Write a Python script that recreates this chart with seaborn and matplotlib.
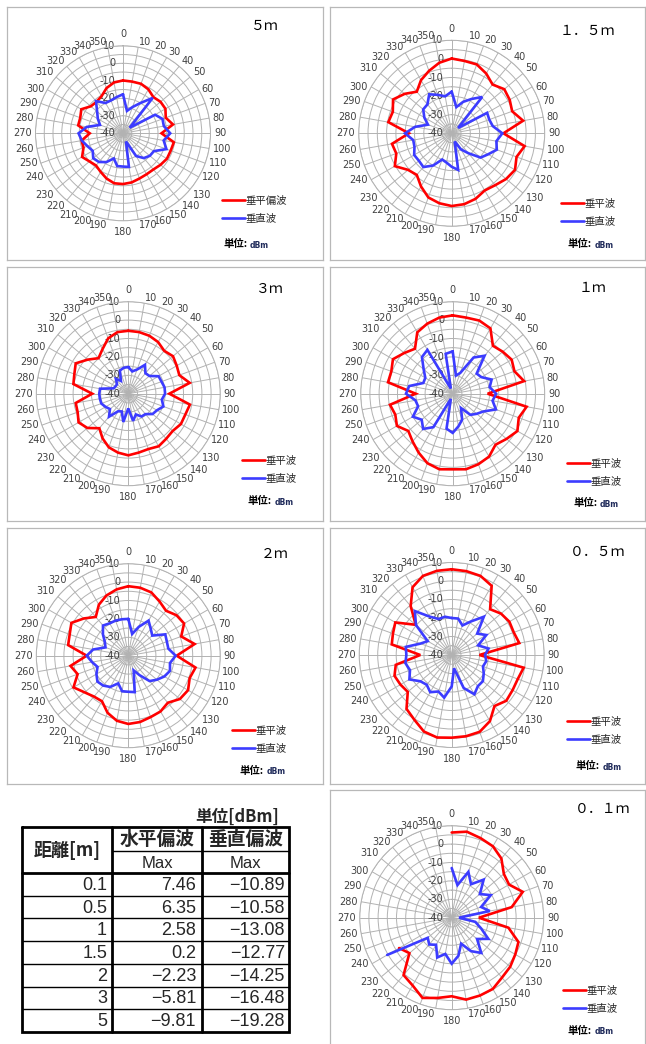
import numpy as np
import matplotlib
matplotlib.use("Agg")
import matplotlib.pyplot as plt
import seaborn as sns
from matplotlib.transforms import offset_copy

sns.set_theme(style="white")
plt.rcParams['font.family'] = ['DejaVu Sans']

# ---- measurement data (dBm), azimuth 0..350 deg in 10 deg steps ----
angles_deg = list(range(0, 360, 10))

h_5m = [-9.81, -10, -9.9, -11, -13, -12, -12, -14, -11, -18, -10.5, -11, -11, -12, -13, -13, -12.5, -11.5,
        -11, -11, -12.5, -14.5, -16, -15, -13, -16, -16, -21, -14, -14, -12.5, -16, -16.5, -15.5, -12.5, -10.5]
v_5m = [-17.7, -27, -24, -20, -13.6, -35, -18.8, -16, -16.3, -13, -16.4, -13.6, -19.6, -20, -21.5, -25, -35, -20.5,
        -21, -21, -24.7, -21, -18.6, -17.8, -20, -18.4, -16.1, -14.6, -19, -26, -23.4, -20.7, -16, -20, -20, -19]

h_1_5m = [0.2, -0.5, -0.6, -2.9, -5.8, -3.1, -4, -5.4, -1, -12.2, -0.2, -2.9, -0.7, -1.8, -3.6, -4.5, -2.5, -1.3,
          -0.9, -1.8, -3.3, -7, -10.8, -9.4, -4.7, -8.3, -7.4, -17, -5.4, -6.3, -3.6, -7, -10.8, -7, -4.3, -1.5]
v_1_5m = [-17.6, -25.7, -22, -18.7, -14.5, -35.5, -18, -18.5, -17.6, -12.77, -15.6, -14.2, -17.4, -19.7, -26, -30, -35.3, -20,
          -22, -24, -25, -20, -16.3, -17, -16.7, -18.7, -19, -14.9, -20, -26.4, -23, -20, -19.7, -15.8, -18, -19.8]

h_3m = [-5.81, -6, -6.5, -7.6, -9.6, -8.3, -9.6, -10.5, -6.1, -17.7, -6, -7, -7, -8.5, -8, -7, -8, -7.5,
        -6.5, -7.5, -9, -12, -15.5, -11, -8.8, -10.7, -11, -20.4, -9.7, -8.8, -7, -11.2, -14.8, -12, -8, -6]
v_3m = [-25.5, -27.7, -26, -21.9, -25.5, -25, -21, -20.8, -20, -20, -21.5, -19.7, -22, -22.8, -25.5, -25.7, -28, -25,
        -32, -24.4, -29.7, -29, -23.7, -27, -25.7, -24.4, -24.3, -24.2, -24.4, -31.5, -32, -32, -29.5, -32, -26.6, -25.7]

h_1m = [2.58, 2, 2.3, 1, -6, -4.5, -3, -4.3, -0.6, -21, 0.8, -1.8, 0.6, -1.8, -3.8, -0.5, 0.8, 1.7,
        1.1, 1.7, 0.2, -3, -6.1, -8.5, -5, -6.8, -5.4, -19.9, -4.3, -4.5, -2.5, -5.6, -8.1, -1.5, 0.5, 2]
v_1m = [-17, -30, -28, -17.3, -13.08, -23, -22, -17.5, -19.6, -16.4, -18, -15, -20.7, -23, -25, -31, -25, -22,
        -18.7, -20.7, -37, -19, -15, -18, -15, -20, -19.4, -14.6, -16, -23, -22.8, -19.4, -14, -12.5, -37, -18]

h_2m = [-2.23, -2.5, -3.4, -6, -8.1, -5.8, -5, -9.4, -3.4, -13.7, -2.9, -4.5, -2.5, -3.4, -6.6, -5, -4.5, -3.4,
        -2.9, -4.1, -7, -11.4, -11, -9, -5.6, -10.7, -8.1, -17.4, -6.8, -6.1, -4.3, -8.5, -12.5, -8, -5.2, -3.4]
v_2m = [-20, -28, -23.3, -18, -21, -23, -16.8, -17.7, -17.9, -14.25, -17, -15.9, -17.4, -19.7, -22, -27.8, -31.5, -19.9,
        -20.4, -20.4, -24, -20.4, -18.8, -18.1, -20, -22.2, -20, -17.4, -20.6, -26.8, -25.3, -22, -18.6, -19.7, -19.7, -19.9]

h_0_5m = [6.35, 6.0, 5.5, 3.2, -7.7, -5.2, -4, -4.3, -2.9, -25, -0.5, -2, -2, -1.5, -4, 1.3, 4.2, 4.6,
          4.7, 5.3, 4, 0.4, -2, -9, -8, -7.1, -9.3, -23, -7.1, -6.2, -4.8, -14.6, -5.5, 2.3, 5.5, 6.2]
v_0_5m = [-20, -20, -23, -19, -13, -22, -18.4, -24.8, -19.8, -22, -21, -22, -20, -18, -18, -15.5, -21, -32.7,
          -23, -16.6, -19, -16.8, -19, -17.9, -13.6, -16, -14.6, -15.5, -14.8, -22, -25, -14.8, -9, -16, -19.3, -19]

# 0.1 m: recorded from 0 to 240 deg only
h_0_1m = [6.3, 7.46, 6, 4.8, 2, -3, -4, 1.1, -6.9, -25.2, -8.7, -1.4, -0.1, 1.5, 2.5, 4.7, 5, 5.2,
          2.7, 4.3, 6.4, 2.5, 0.7, -10, -7]
v_0_1m = [-13, -22, -13.5, -19, -13, -20, -15.5, -23, -19, -36, -27, -23, -17, -22, -15, -19, -25, -19,
          -15, -20, -17, -23, -21, -23, 0.5]

# summary table
dist_labels = ["0.1", "0.5", "1", "1.5", "2", "3", "5"]
h_max = [7.46, 6.35, 2.58, 0.2, -2.23, -5.81, -9.81]
v_max = [-10.89, -10.58, -13.08, -12.77, -14.25, -16.48, -19.28]

r_ticks = [-40, -30, -20, -10, 0, 10]

W, H = 646, 1044
fig = plt.figure(figsize=(W / 100, H / 100), dpi=100)
fig.patch.set_facecolor("white")

CJK = ['Noto Sans CJK JP', 'DejaVu Sans']
RED = "#ff0000"
BLUE = "#3c3cff"
GRID = "#b2b2b2"
TXT = "#404040"


def px_rect(x0, y0, x1, y1):
    return [x0 / W, 1 - y1 / H, (x1 - x0) / W, (y1 - y0) / H]


def panel_box(x0, y0, x1, y1):
    ax = fig.add_axes(px_rect(x0, y0, x1, y1))
    ax.set_xticks([]); ax.set_yticks([])
    ax.patch.set_alpha(0)
    for s in ax.spines.values():
        s.set_color("#b8b8b8"); s.set_linewidth(0.9)
    return ax


panels = [
    # title, h, v, box, center, radius, legend label, legend pos, unit pos, title pos
    ("５ｍ", h_5m, v_5m, (7, 7, 323, 260), (123, 133.3), 87.5, "垂平偏波", (222, 196), (223, 244), (265, 26)),
    ("１．５ｍ", h_1_5m, v_1_5m, (330, 7, 645, 260), (451.7, 133.3), 93, "垂平波", (561, 199), (568, 244), (587, 31)),
    ("３ｍ", h_3m, v_3m, (7, 267, 323, 521), (128.3, 393.7), 92, "垂平波", (242, 456), (248, 501), (270, 289)),
    ("１ｍ", h_1m, v_1m, (330, 267, 645, 521), (452.7, 393.7), 92, "垂平波", (567, 459), (573, 503), (593, 288)),
    ("２ｍ", h_2m, v_2m, (7, 528, 323, 784), (128.3, 655.7), 92, "垂平波", (232, 726), (240, 771), (275, 554)),
    ("０．５ｍ", h_0_5m, v_0_5m, (330, 528, 645, 784), (451.7, 655), 92.5, "垂平波", (567, 717), (576, 766), (598, 552)),
    ("０．１ｍ", h_0_1m, v_0_1m, (330, 790, 645, 1050), (451.7, 917.7), 92, "垂平波", (563, 986), (568, 1031), (603, 809)),
]

theta_full = np.deg2rad(angles_deg)


def closed(vals):
    if len(vals) == len(angles_deg):
        return np.append(theta_full, theta_full[0]), np.append(vals, vals[0])
    return theta_full[:len(vals)], np.asarray(vals)


for title, hv, vv, box, (cx, cy), R, leg_lab, leg_pos, unit_pos, title_pos in panels:
    panel_box(*box)
    ax = fig.add_axes(px_rect(cx - R, cy - R, cx + R, cy + R), projection="polar")
    ax.set_theta_zero_location("N")
    ax.set_theta_direction(-1)
    ax.set_ylim(-40, 10)
    ax.set_xticks(theta_full)
    ax.set_xticklabels([])
    ax.set_yticks(np.arange(-35, 11, 5))
    ax.set_yticklabels([])
    ax.grid(True, color=GRID, linewidth=0.7)
    ax.spines["polar"].set_color(GRID)
    ax.spines["polar"].set_linewidth(0.7)
    ax.set_facecolor("white")

    th, rv = closed(hv)
    l1, = ax.plot(th, rv, color=RED, linewidth=1.9, solid_joinstyle="miter", label=leg_lab, zorder=4)
    th, rv = closed(vv)
    l2, = ax.plot(th, rv, color=BLUE, linewidth=1.9, solid_joinstyle="miter", label="垂直波", zorder=4)

    # azimuth labels outside the ring
    for a in angles_deg:
        t = np.deg2rad(a)
        s, c = np.sin(t), np.cos(t)
        if abs(s) < 0.1:
            ha = "center"
        else:
            ha = "left" if s > 0 else "right"
        if abs(c) < 0.55:
            va = "center"
        else:
            va = "bottom" if c > 0 else "top"
        dy = 6.5 * np.sign(c) if ha == "center" else 0.5 * c
        tr = offset_copy(ax.transData, fig=fig, x=3.5 * s, y=dy, units="dots")
        ax.text(t, 10, str(a), transform=tr, ha=ha, va=va, fontsize=7, color=TXT, clip_on=False)

    # radial scale labels along the 0 deg spoke
    tr = offset_copy(ax.transData, fig=fig, x=-8, y=0, units="dots")
    for rv_ in r_ticks:
        ax.text(0, rv_, str(rv_), transform=tr, ha="right", va="center", fontsize=7, color=TXT,
                clip_on=False, zorder=2)

    # title
    fig.text(title_pos[0] / W, 1 - title_pos[1] / H, title, family=CJK, fontsize=10, ha="center",
             va="center", color="black")

    # legend
    ax.legend(handles=[l1, l2], loc="upper left", bbox_to_anchor=(leg_pos[0] / W, 1 - leg_pos[1] / H),
              bbox_transform=fig.transFigure, frameon=False, prop={"family": CJK, "size": 7.5},
              handlelength=2.2, handletextpad=0.05, labelspacing=0.75, borderpad=0, borderaxespad=0)

    # unit note
    fig.text(unit_pos[0] / W, 1 - unit_pos[1] / H, "単位:", family=CJK, fontsize=7.5, fontweight="bold",
             ha="left", va="center", color="black")
    fig.text((unit_pos[0] + 27) / W, 1 - (unit_pos[1] + 1) / H, "dBm", family=['DejaVu Sans'], fontsize=5.5,
             fontweight="bold", ha="left", va="center", color="#1f2a5a")

# ---- summary table ----
tax = fig.add_axes([0, 0, 1, 1])
tax.set_xlim(0, W)
tax.set_ylim(H, 0)
tax.axis("off")
tax.patch.set_alpha(0)

x_l, x_c1, x_c2, x_r = 22, 112, 202, 289
y_top, y_h1, y_h2, y_bot = 827, 851, 873, 1032
row_edges = np.linspace(y_h2, y_bot, len(dist_labels) + 1)

thick, thin = 2.0, 1.0
tax.plot([x_l, x_r, x_r, x_l, x_l], [y_top, y_top, y_bot, y_bot, y_top], color="black", lw=thick,
         solid_joinstyle="miter")
for xv in (x_c1, x_c2):
    tax.plot([xv, xv], [y_top, y_bot], color="black", lw=thick)
tax.plot([x_l, x_r], [y_h2, y_h2], color="black", lw=thick)
tax.plot([x_c1, x_r], [y_h1, y_h1], color="black", lw=thin)
for yv in row_edges[1:-1]:
    tax.plot([x_l, x_r], [yv, yv], color="black", lw=thin)

tax.text(x_r - 10, 817, "単位[dBm]", family=CJK, fontsize=12, fontweight="bold", ha="right", va="center")
tax.text((x_l + x_c1) / 2, (y_top + y_h2) / 2, "距離[m]", family=CJK, fontsize=13, fontweight="bold",
         ha="center", va="center")
tax.text((x_c1 + x_c2) / 2, (y_top + y_h1) / 2, "水平偏波", family=CJK, fontsize=13.5, fontweight="bold",
         ha="center", va="center")
tax.text((x_c2 + x_r) / 2, (y_top + y_h1) / 2, "垂直偏波", family=CJK, fontsize=13.5, fontweight="bold",
         ha="center", va="center")
for xa, xb in ((x_c1, x_c2), (x_c2, x_r)):
    tax.text((xa + xb) / 2, (y_h1 + y_h2) / 2 + 1, "Max", family=['Liberation Sans'], fontsize=12,
             ha="center", va="center")


def fmt(v):
    s = f"{v:g}"
    return s.replace("-", "\u2212")


for i, (d, hm, vm) in enumerate(zip(dist_labels, h_max, v_max)):
    yc = (row_edges[i] + row_edges[i + 1]) / 2 + 1
    tax.text(x_c1 - 5, yc, d, family=['Liberation Sans'], fontsize=13, ha="right", va="center")
    tax.text(x_c2 - 6, yc, fmt(hm), family=['Liberation Sans'], fontsize=13, ha="right", va="center")
    tax.text(x_r - 4, yc, fmt(vm), family=['Liberation Sans'], fontsize=13, ha="right", va="center")

fig.savefig("out.png", dpi=100, facecolor="white")
